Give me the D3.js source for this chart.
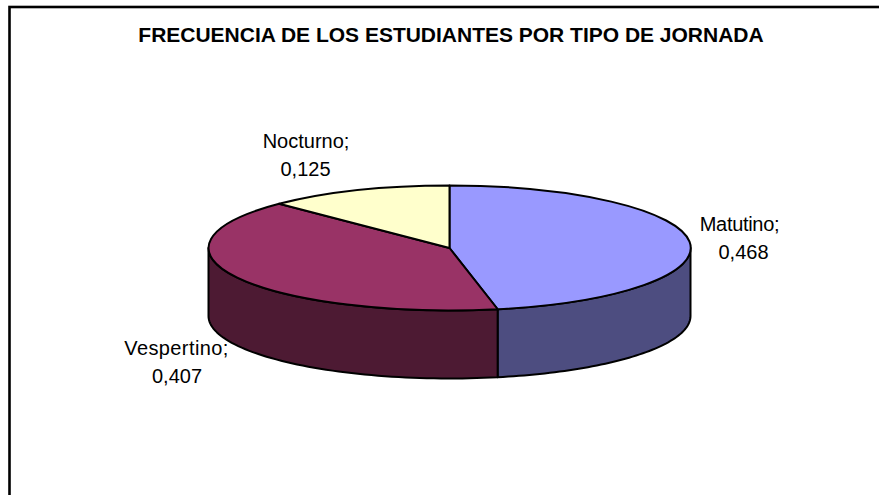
<!DOCTYPE html>
<html><head><meta charset="utf-8">
<script src="https://cdn.jsdelivr.net/npm/d3@7"></script>
<style>html,body{margin:0;background:#fff}svg{display:block}text{font-family:"Liberation Sans",Arial,sans-serif;fill:#000}</style>
</head><body><svg id="c" width="879" height="495"></svg>
<script>
const titleText = "FRECUENCIA DE LOS ESTUDIANTES POR TIPO DE JORNADA";
const categories = ["Matutino","Vespertino","Nocturno"];
const values = [0.468,0.407,0.125];
const valueLabels = ["0,468","0,407","0,125"];
const topColors = ["#9999ff","#993366","#ffffcc"];
const sideColors = ["#4d4d80","#4d1a33","#808066"];
const labelPos = [[739.5,743.5,231,259,-0.3],[176.5,177,355,383,0.4],[306,305.5,148,176,0]];

const W=879,H=495,cx=449.5,cy=248,rx=241,ry=62.5,depth=68;
const svg=d3.select("#c");
svg.append("rect").attr("x",9.5).attr("y",7).attr("width",W+20).attr("height",H+20).attr("fill","#fff").attr("stroke","#000").attr("stroke-width",2.6);
svg.append("text").attr("x",451).attr("y",42).attr("text-anchor","middle").attr("font-size",21).attr("font-weight","bold").attr("letter-spacing",-0.01).text(titleText);

const arcs=d3.pie().sort(null)(values);
const px=a=>cx+rx*Math.sin(a), py=a=>cy-ry*Math.cos(a);
const line=d3.line();
const PI=Math.PI;
arcs.forEach((d,i)=>{
  const a0=Math.max(d.startAngle,PI/2),a1=Math.min(d.endAngle,1.5*PI);
  if(a1<=a0)return;
  const as=d3.range(0,61).map(k=>a0+(a1-a0)*k/60);
  const pts=as.map(a=>[px(a),py(a)]).concat(as.slice().reverse().map(a=>[px(a),py(a)+depth]));
  svg.append("path").attr("d",line(pts)+"Z").attr("fill",sideColors[i]).attr("stroke","#000").attr("stroke-width",2).attr("stroke-linejoin","round");
});
const arc=d3.arc().innerRadius(0).outerRadius(1);
const g=svg.append("g").attr("transform",`translate(${cx},${cy}) scale(${rx},${ry})`);
g.selectAll("path").data(arcs).join("path").attr("d",arc).attr("fill",(d,i)=>topColors[i])
 .attr("stroke","#000").attr("stroke-width",2).attr("vector-effect","non-scaling-stroke").attr("stroke-linejoin","round");
categories.forEach((c,i)=>{
  const [x1,x2,y1,y2,ls]=labelPos[i];
  svg.append("text").attr("x",x1).attr("y",y1).attr("text-anchor","middle").attr("font-size",20).attr("letter-spacing",ls).text(c+";");
  svg.append("text").attr("x",x2).attr("y",y2).attr("text-anchor","middle").attr("font-size",20).text(valueLabels[i]);
});
</script></body></html>
